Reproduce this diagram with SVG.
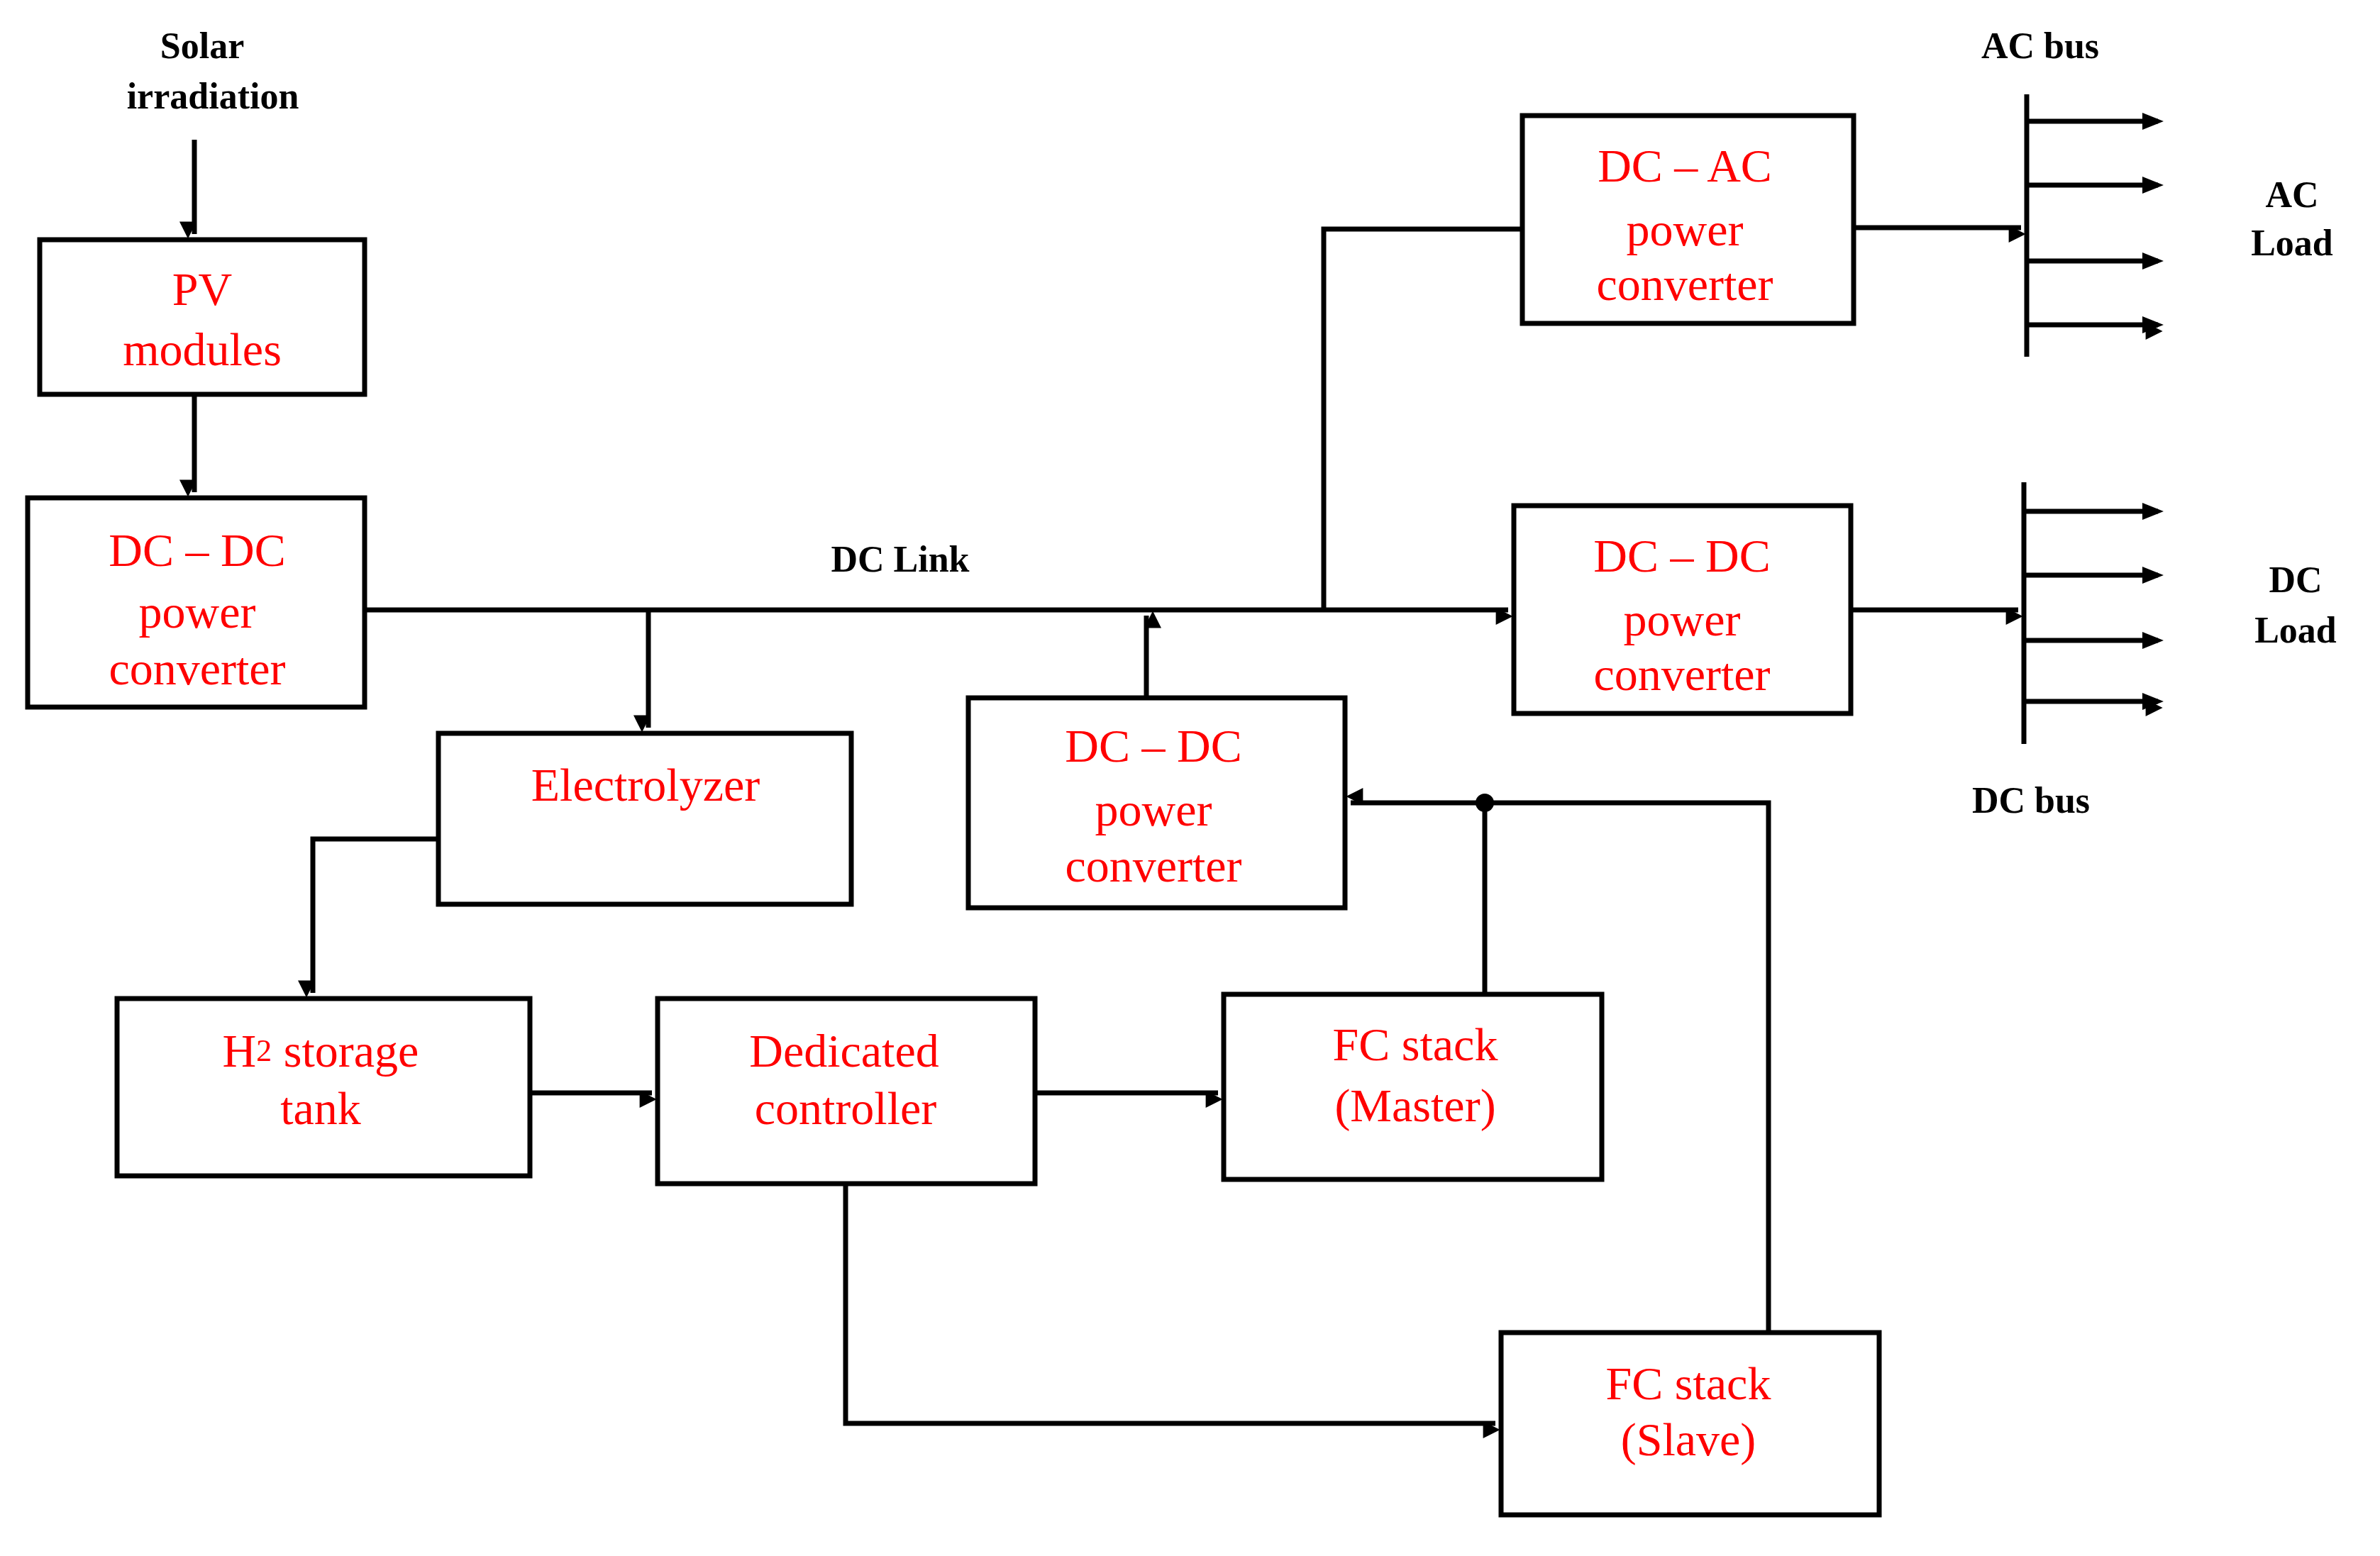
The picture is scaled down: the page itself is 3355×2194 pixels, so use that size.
<svg xmlns="http://www.w3.org/2000/svg" width="3355" height="2194" viewBox="0 0 3355 2194">
<defs>
<marker id="a" viewBox="0 0 10 10" refX="9" refY="5" markerWidth="6" markerHeight="6" markerUnits="userSpaceOnUse" orient="auto" style="overflow:visible">
<path d="M0,0 L10,5 L0,10 z" fill="#000" transform="scale(4) translate(-5,0)"/>
</marker>
<style>
rect{fill:#fff;stroke:#000;stroke-width:7}
.t{font-family:"Liberation Serif",serif;font-size:66px;fill:#f00;text-anchor:middle;dominant-baseline:central}
.l{font-family:"Liberation Serif",serif;font-size:52px;font-weight:bold;fill:#000;text-anchor:middle;dominant-baseline:central}
#c path{fill:none;stroke:#000;stroke-width:7}
</style>
</defs>
<rect x="0" y="0" width="3355" height="2194" style="stroke:none"/>
<g id="c">
<path d="M274,197V330" marker-end="url(#a)"/>
<path d="M274,556V694" marker-end="url(#a)"/>
<path d="M514,860H2126" marker-end="url(#a)"/>
<path d="M1866,860V323H2146"/>
<path d="M2613,321H2849" marker-end="url(#a)"/>
<path d="M2609,860H2845" marker-end="url(#a)"/>
<path d="M914,860V1026" marker-end="url(#a)"/>
<path d="M1616,984V868" marker-end="url(#a)"/>
<path d="M618,1183H441V1400" marker-end="url(#a)"/>
<path d="M747,1541H919" marker-end="url(#a)"/>
<path d="M1459,1541H1717" marker-end="url(#a)"/>
<path d="M1192,1669V2007H2108" marker-end="url(#a)"/>
<path d="M2493,1879V1132H1904" marker-end="url(#a)"/>
<path d="M2093,1402V1132"/>
<path d="M2857,133V503"/>
<path d="M2857,171H3042M2857,261H3042M2857,368H3042M2857,458H3042" marker-end="url(#a)"/>
<path d="M2853,680V1049"/>
<path d="M2853,721H3042M2853,811H3042M2853,903H3042M2853,989H3042" marker-end="url(#a)"/>
</g>
<path d="M2857,171H3042M2857,261H3042M2857,368H3042M2857,458H3042M2853,721H3042M2853,811H3042M2853,903H3042M2853,989H3042" fill="none" stroke="none"/>
<g fill="#000"><path d="M3050,171l-30,-12v24zM3050,261l-30,-12v24zM3050,368l-30,-12v24zM3050,458l-30,-12v24zM3050,721l-30,-12v24zM3050,811l-30,-12v24zM3050,903l-30,-12v24zM3050,989l-30,-12v24z"/></g>
<circle cx="2093" cy="1132" r="13" fill="#000"/>
<g id="pv"><rect x="56" y="338" width="458" height="218"/><text class="t" x="285" y="407">PV</text><text class="t" x="285" y="492">modules</text></g>
<g id="dcdc1"><rect x="39" y="702" width="475" height="295"/><text class="t" x="278" y="775">DC – DC</text><text class="t" x="278" y="862">power</text><text class="t" x="278" y="942">converter</text></g>
<g id="elec"><rect x="618" y="1034" width="582" height="241"/><text class="t" x="910" y="1106">Electrolyzer</text></g>
<g id="h2"><rect x="165" y="1408" width="582" height="250"/><text class="t" x="452" y="1481">H<tspan font-size="44">2</tspan> storage</text><text class="t" x="452" y="1562">tank</text></g>
<g id="ctrl"><rect x="927" y="1408" width="532" height="261"/><text class="t" x="1190" y="1481">Dedicated</text><text class="t" x="1192" y="1562">controller</text></g>
<g id="fcm"><rect x="1725" y="1402" width="533" height="261"/><text class="t" x="1995" y="1472">FC stack</text><text class="t" x="1995" y="1558">(Master)</text></g>
<g id="fcs"><rect x="2116" y="1879" width="533" height="257"/><text class="t" x="2380" y="1950">FC stack</text><text class="t" x="2380" y="2029">(Slave)</text></g>
<g id="dcdc2"><rect x="1365" y="984" width="531" height="296"/><text class="t" x="1626" y="1051">DC – DC</text><text class="t" x="1626" y="1141">power</text><text class="t" x="1626" y="1220">converter</text></g>
<g id="dcac"><rect x="2146" y="163" width="467" height="293"/><text class="t" x="2375" y="233">DC – AC</text><text class="t" x="2375" y="323">power</text><text class="t" x="2375" y="400">converter</text></g>
<g id="dcdc3"><rect x="2134" y="713" width="475" height="293"/><text class="t" x="2371" y="783">DC – DC</text><text class="t" x="2371" y="873">power</text><text class="t" x="2371" y="950">converter</text></g>
<g id="labels">
<text class="l" x="285" y="64">Solar</text><text class="l" x="300" y="135">irradiation</text>
<text class="l" x="1269" y="788">DC Link</text>
<text class="l" x="2876" y="64">AC bus</text>
<text class="l" x="3231" y="274">AC</text><text class="l" x="3231" y="342">Load</text>
<text class="l" x="3236" y="817">DC</text><text class="l" x="3236" y="888">Load</text>
<text class="l" x="2863" y="1128">DC bus</text>
</g>
</svg>
